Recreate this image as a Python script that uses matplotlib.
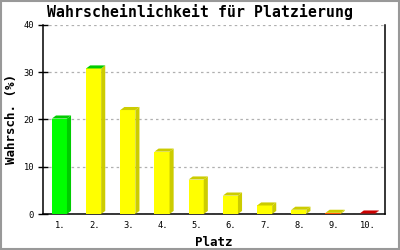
import matplotlib
matplotlib.use("Agg")
import matplotlib.pyplot as plt
from matplotlib.patches import Polygon, Rectangle

# Daten
platz = ["1.", "2.", "3.", "4.", "5.", "6.", "7.", "8.", "9.", "10."]
werte = [20.2, 30.8, 22.0, 13.2, 7.3, 3.9, 1.8, 0.9, 0.25, 0.1]
front_farben = ["#00ff00", "#ffff00", "#ffff00", "#ffff00", "#ffff00",
                "#ffff00", "#ffff00", "#ffff00", "#ff5500", "#dd0000"]
deckel_farben = ["#00cc00", "#00cc00", "#cccc00", "#cccc00", "#cccc00",
                 "#cccc00", "#cccc00", "#cccc00", "#cccc00", "#cc0000"]
seiten_farben = ["#00cc00", "#cccc00", "#cccc00", "#cccc00", "#cccc00",
                 "#cccc00", "#cccc00", "#cccc00", "#cccc00", "#cc0000"]

mono = "DejaVu Sans Mono"

fig = plt.figure(figsize=(4, 2.5), dpi=100)
fig.patch.set_facecolor("white")
fig.patches.append(Rectangle((0.002, 0.003), 0.995, 0.993, transform=fig.transFigure,
                             fill=False, edgecolor="#999999", linewidth=1.5))

ax = fig.add_axes([0.1075, 0.144, 0.855, 0.756])

breite = 0.44
dx = 0.12   # Tiefe in Kategorie-Einheiten
dy = 0.65   # Tiefe in Werte-Einheiten

xs = list(range(len(platz)))
for x, w, fc, tc, sc in zip(xs, werte, front_farben, deckel_farben, seiten_farben):
    x0 = x - breite / 2 - 0.02
    x1 = x0 + breite
    ax.bar(x0, w, width=breite, align="edge", color=fc, zorder=3)
    side = Polygon([(x1, 0), (x1, w), (x1 + dx, w + dy), (x1 + dx, dy)],
                   closed=True, facecolor=sc, edgecolor="none", zorder=3)
    top = Polygon([(x0, w), (x1, w), (x1 + dx, w + dy), (x0 + dx, w + dy)],
                  closed=True, facecolor=tc, edgecolor="none", zorder=3)
    ax.add_patch(side)
    ax.add_patch(top)

ax.set_xlim(-0.5, len(platz) - 0.5)
ax.set_ylim(0, 40)
ax.set_yticks([0, 10, 20, 30, 40])
ax.set_xticks(xs)
ax.set_xticklabels(platz)

ax.yaxis.grid(True, linestyle=(0, (2, 2.5)), color="#b0b0b0", linewidth=0.9, zorder=0)
ax.set_axisbelow(True)

ax.spines["top"].set_visible(False)
for s in ["left", "bottom", "right"]:
    ax.spines[s].set_linewidth(1.1)
    ax.spines[s].set_color("black")

ax.tick_params(axis="y", direction="inout", length=7, width=1, pad=3, labelsize=6.3)
ax.tick_params(axis="x", length=0, pad=5, labelsize=6.3)
for lab in ax.get_xticklabels() + ax.get_yticklabels():
    lab.set_family(mono)

ax.set_xlabel("Platz", family=mono, fontweight="bold", fontsize=9, labelpad=4)
ax.set_ylabel("Wahrsch. (%)", family=mono, fontweight="bold", fontsize=9, labelpad=4)

fig.text(0.5, 0.952, "Wahrscheinlichkeit für Platzierung", ha="center", va="center",
         family=mono, fontweight="bold", fontsize=10.7)

fig.savefig("out.png", dpi=100)
